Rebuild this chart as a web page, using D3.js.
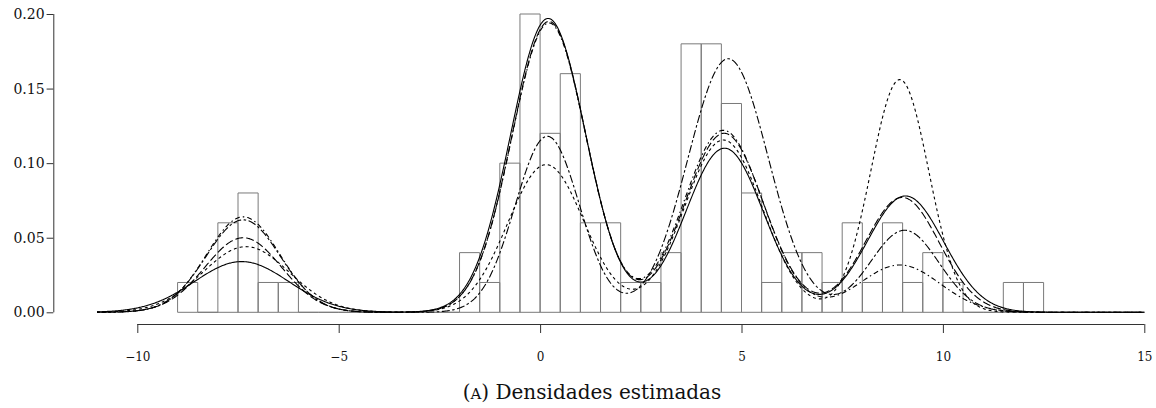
<!DOCTYPE html>
<html>
<head>
<meta charset="utf-8">
<script src="https://cdn.jsdelivr.net/npm/d3@7/dist/d3.min.js"></script>
<style>
  html, body { margin: 0; padding: 0; background: #fff; }
  svg { display: block; }
  text { font-family: "DejaVu Serif", "Liberation Serif", serif; fill: #111; }
</style>
</head>
<body>
<div id="chart"></div>
<script>
// histogram (density scale), bins of width 0.5 starting at -9
const binStart = -9;
const binWidth = 0.5;
const histDensity = [
  0.02, 0, 0.06, 0.08, 0.02, 0.02,          // -9 .. -6
  0, 0, 0, 0, 0, 0, 0, 0,                   // -6 .. -2
  0.04, 0.02, 0.10, 0.20, 0.12, 0.16, 0.06, 0.06, 0.02, 0.02,   // -2 .. 3
  0.04, 0.18, 0.18, 0.14, 0.08, 0.02, 0.04, 0.04, 0.02,         // 3 .. 7.5
  0.06, 0.02, 0.06, 0.02, 0.04, 0.02, 0, 0, 0.02, 0.02          // 7.5 .. 12.5
];

// estimated densities: one bump per group (peak height, centre, spread)
const solidPeak = [0.034, 0.197, 0.110, 0.078];
const solidMean = [-7.41, 0.20, 4.58, 9.07];
const solidSd   = [1.17, 0.93, 0.97, 0.95];

const dashPeak = [0.044, 0.099, 0.1155, 0.156];
const dashMean = [-7.30, 0.15, 4.55, 8.93];
const dashSd   = [1.08, 0.95, 0.97, 0.72];

const twodashPeak = [0.062, 0.118, 0.170, 0.055];
const twodashMean = [-7.37, 0.18, 4.67, 9.05];
const twodashSd   = [0.92, 0.80, 1.00, 0.85];

const longdashPeak = [0.050, 0.195, 0.120, 0.077];
const longdashMean = [-7.37, 0.22, 4.57, 8.99];
const longdashSd   = [0.95, 0.92, 0.98, 0.92];

const dotdashPeak = [0.064, 0.194, 0.122, 0.0317];
const dotdashMean = [-7.37, 0.22, 4.55, 8.93];
const dotdashSd   = [0.91, 0.92, 0.98, 1.00];

const xTicks = [-10, -5, 0, 5, 10, 15];
const yTicks = [0, 0.05, 0.10, 0.15, 0.20];
const caption = "Densidades estimadas";

const width = 1156, height = 408;

const svg = d3.select("#chart").append("svg")
  .attr("width", width)
  .attr("height", height);

const x = d3.scaleLinear().domain([-10, 15]).range([137.3, 1144.3]);
const y = d3.scaleLinear().domain([0, 0.2]).range([312.3, 14]);

// histogram bars (zero bars still leave their baseline)
const bins = histDensity.map((d, i) => ({x0: binStart + i * binWidth, x1: binStart + (i + 1) * binWidth, d}));
svg.append("g")
  .selectAll("path")
  .data(bins)
  .join("path")
    .attr("d", b => `M${x(b.x0)},${y(0)}V${y(b.d)}H${x(b.x1)}V${y(0)}Z`)
    .attr("fill", "none")
    .attr("stroke", "#7a7a7a")
    .attr("stroke-width", 1);

// curves
const curves = [
  {peak: solidPeak, mean: solidMean, sd: solidSd, dash: null},
  {peak: dashPeak, mean: dashMean, sd: dashSd, dash: "3,3"},
  {peak: twodashPeak, mean: twodashMean, sd: twodashSd, dash: "2.5,2.5,8,2.5"},
  {peak: longdashPeak, mean: longdashMean, sd: longdashSd, dash: "8,3"},
  {peak: dotdashPeak, mean: dotdashMean, sd: dotdashSd, dash: "1.5,3,5,3"}
];

const grid = d3.range(-11, 15.001, 0.02);
const dens = (c, t) => d3.sum(c.peak, (p, i) => p * Math.exp(-0.5 * ((t - c.mean[i]) / c.sd[i]) ** 2));

const line = d3.line().x(d => x(d[0])).y(d => y(d[1])).curve(d3.curveLinear);

svg.append("g")
  .selectAll("path")
  .data(curves)
  .join("path")
    .attr("d", c => line(grid.map(t => [t, dens(c, t)])))
    .attr("fill", "none")
    .attr("stroke", "#000")
    .attr("stroke-width", 1.1)
    .attr("stroke-dasharray", c => c.dash);

// y axis (R style, labels horizontal)
const yAxis = d3.axisLeft(y).tickValues(yTicks).tickFormat(d3.format(".2f")).tickSize(6.7).tickPadding(2);
svg.append("g")
  .attr("transform", "translate(53.3,0)")
  .call(yAxis)
  .call(g => g.select(".domain").attr("d", `M0.5,${y(0)}V${y(0.2)}`))
  .call(g => g.selectAll("path, line").attr("stroke", "#333"))
  .call(g => g.selectAll("text").attr("font-family", "DejaVu Serif").attr("font-size", 14).attr("fill", "#111"));

// x axis
const xAxis = d3.axisBottom(x).tickValues(xTicks).tickFormat(d => d < 0 ? "\u2212" + Math.abs(d) : d).tickSize(9).tickPadding(19);
svg.append("g")
  .attr("transform", "translate(0,324)")
  .call(xAxis)
  .call(g => g.select(".domain").attr("d", `M${x(-10)},0.5H${x(15)}`))
  .call(g => g.selectAll("path, line").attr("stroke", "#333"))
  .call(g => g.selectAll("text").attr("font-family", "DejaVu Serif").attr("font-size", 12).attr("fill", "#111"));

// caption
const cap = svg.append("text")
  .attr("x", 592)
  .attr("y", 399)
  .attr("text-anchor", "middle")
  .attr("font-size", 20);
cap.append("tspan").text("(");
cap.append("tspan").attr("font-size", 15).text("A");
cap.append("tspan").text(") " + caption);
</script>
</body>
</html>
